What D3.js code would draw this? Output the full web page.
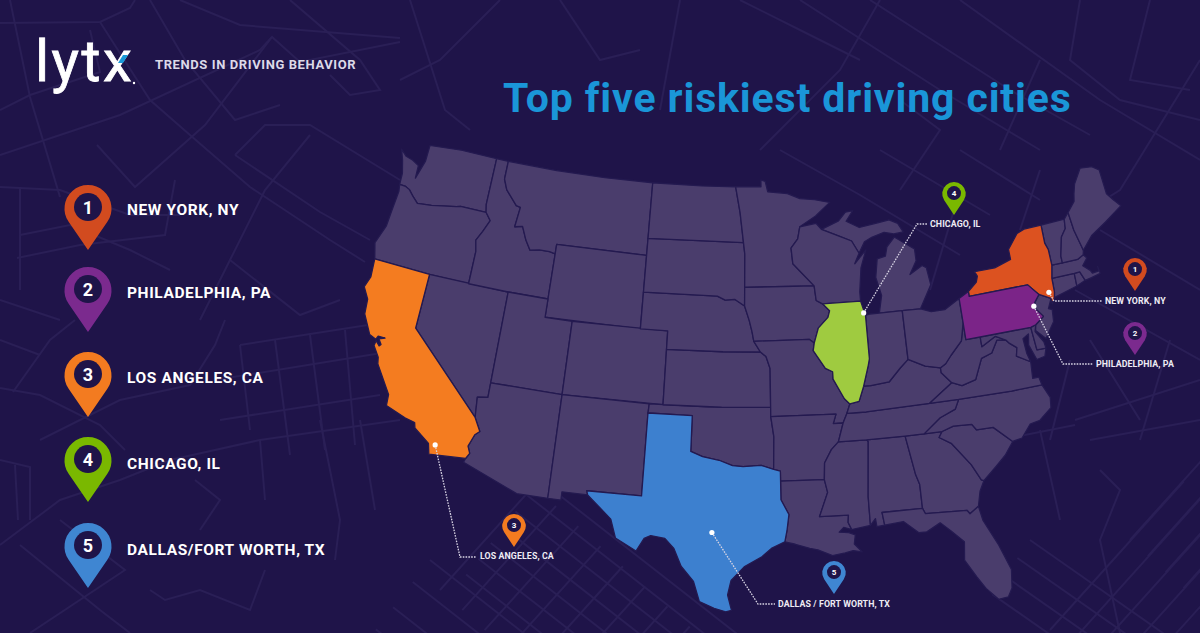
<!DOCTYPE html>
<html>
<head>
<meta charset="utf-8">
<script src="https://cdn.jsdelivr.net/npm/d3@7"></script>
<style>
  html, body { margin: 0; padding: 0; background: #1f1449; }
  svg { display: block; }
  text { font-family: Roboto, "Open Sans", sans-serif; }
</style>
</head>
<body>
<div id="chart"></div>
<script>
const WIDTH = 1200;
const HEIGHT = 633;

// state outlines, lon/lat
const WA = [[-124.73,48.15],[-124.2,47.85],[-123.6,47.75],[-123.05,47.55],[-123,46.85],[-122.6,47.9],[-122.6,48.8],[-120,49],[-117.03,49],[-117.04,46.42],[-116.92,46],[-118.98,46],[-119.3,45.93],[-121.2,45.65],[-122.3,45.55],[-122.78,45.85],[-123.2,46.15],[-123.55,46.26],[-124.05,46.27],[-124.1,46.9],[-124.4,47.6]];
const OR = [[-124.05,46.27],[-123.55,46.26],[-123.2,46.15],[-122.78,45.85],[-122.3,45.55],[-121.2,45.65],[-119.3,45.93],[-118.98,46],[-116.92,46],[-116.46,45.6],[-116.85,44.95],[-117.22,44.4],[-117.03,43.8],[-117.03,42],[-120,42],[-124.21,42],[-124.55,42.84],[-124.1,43.9],[-124.05,44.7],[-123.95,45.9]];
const CA = [[-124.21,42],[-120,42],[-120,39],[-114.63,35],[-114.14,34.3],[-114.43,34.08],[-114.72,33.4],[-114.52,33.03],[-114.72,32.72],[-117.12,32.53],[-117.3,33.1],[-118.4,33.75],[-118.5,34.03],[-119.2,34.15],[-120.6,34.55],[-120.65,35.15],[-121.9,36.6],[-122,36.95],[-122.5,37.5],[-122.45,37.78],[-122.15,37.55],[-122.05,37.65],[-122.3,37.92],[-121.9,38.05],[-122.4,38.05],[-122.5,37.85],[-123,38],[-123.75,39],[-123.85,39.8],[-124.35,40.4],[-124.1,41]];
const NV = [[-120,42],[-114.04,42],[-114.04,36.2],[-114.75,36.1],[-114.63,35],[-120,39]];
const ID = [[-117.03,49],[-116.05,49],[-116.05,48],[-115.7,47.45],[-114.7,46.7],[-114.35,46.65],[-114.5,45.55],[-113.9,45.65],[-113.45,44.95],[-113,44.45],[-112.3,44.55],[-111.5,44.55],[-111.05,44.48],[-111.05,42],[-114.04,42],[-117.03,42],[-117.03,43.8],[-117.22,44.4],[-116.85,44.95],[-116.46,45.6],[-116.92,46],[-117.04,46.42]];
const MT = [[-116.05,49],[-112,49],[-108,49],[-104.05,49],[-104.05,45],[-111.05,45],[-111.05,44.48],[-111.5,44.55],[-112.3,44.55],[-113,44.45],[-113.45,44.95],[-113.9,45.65],[-114.5,45.55],[-114.35,46.65],[-114.7,46.7],[-115.7,47.45],[-116.05,48]];
const WY = [[-111.05,45],[-104.05,45],[-104.05,41],[-111.05,41]];
const UT = [[-114.04,42],[-111.05,42],[-111.05,41],[-109.05,41],[-109.05,37],[-114.04,37]];
const CO = [[-109.05,41],[-102.05,41],[-102.05,37],[-109.05,37]];
const AZ = [[-114.75,36.1],[-114.04,36.2],[-114.04,37],[-109.05,37],[-109.05,31.33],[-111.07,31.33],[-114.8,32.5],[-114.72,32.72],[-114.52,33.03],[-114.72,33.4],[-114.43,34.08],[-114.14,34.3],[-114.63,35]];
const NM = [[-109.05,37],[-103,37],[-103.04,36.5],[-103.06,32],[-106.62,32],[-106.53,31.78],[-108.2,31.78],[-108.2,31.33],[-109.05,31.33]];
const TX = [[-106.62,32],[-103.06,32],[-103.04,36.5],[-100,36.5],[-100,34.56],[-99.2,34.3],[-98.1,34.13],[-97.2,33.85],[-96.5,33.8],[-95.3,33.87],[-94.48,33.64],[-94.04,33.55],[-94.04,33],[-94.04,31.99],[-93.55,31.18],[-93.7,30.3],[-93.85,29.7],[-94.7,29.35],[-95.3,28.9],[-96.4,28.35],[-97.2,27.6],[-97.4,26.8],[-97.15,25.96],[-97.5,25.87],[-98.2,26.05],[-99.1,26.4],[-99.5,27.5],[-100.3,28.3],[-100.8,29.25],[-101.4,29.77],[-102.3,29.88],[-102.7,29.7],[-103.15,28.98],[-104.5,29.6],[-104.9,30.6],[-106.53,31.78]];
const OK = [[-103,37],[-99,37],[-94.62,37],[-94.62,36.5],[-94.43,35.4],[-94.48,33.64],[-95.3,33.87],[-96.5,33.8],[-97.2,33.85],[-98.1,34.13],[-99.2,34.3],[-100,34.56],[-100,36.5],[-103.04,36.5]];
const KS = [[-102.05,40],[-98,40],[-95.3,40],[-94.9,39.75],[-94.62,39.1],[-94.62,37],[-98,37],[-102.05,37]];
const NE = [[-104.05,43],[-98.5,43],[-97.9,42.8],[-97.2,42.85],[-96.45,42.49],[-96.1,41.7],[-95.9,41.1],[-95.77,40.58],[-95.3,40],[-98,40],[-102.05,40],[-102.05,41],[-104.05,41]];
const SD = [[-104.05,45.94],[-96.56,45.94],[-96.45,45.3],[-96.45,43.5],[-96.45,42.49],[-97.2,42.85],[-97.9,42.8],[-98.5,43],[-104.05,43]];
const ND = [[-104.05,49],[-100,49],[-97.23,49],[-96.85,47.6],[-96.56,45.94],[-104.05,45.94]];
const MN = [[-97.23,49],[-95.15,49],[-95.15,49.38],[-94.8,49.3],[-94.6,48.72],[-93,48.6],[-92,48.3],[-90.8,48.2],[-89.6,48],[-90.8,47.3],[-92.1,46.75],[-92.3,46.1],[-92.85,45.6],[-92.75,44.75],[-91.2,43.5],[-96.45,43.5],[-96.45,45.3],[-96.56,45.94],[-96.85,47.6]];
const IA = [[-96.45,43.5],[-91.2,43.5],[-91.1,42.7],[-90.64,42.5],[-90.15,42.1],[-90.3,41.75],[-91.05,41.2],[-91.4,40.4],[-91.73,40.61],[-95.77,40.58],[-95.9,41.1],[-96.1,41.7],[-96.45,42.49]];
const MO = [[-95.77,40.58],[-91.73,40.61],[-91.4,40.4],[-91.5,40],[-90.7,39],[-90.2,38.8],[-90.2,38.4],[-89.5,37.3],[-89.15,37],[-89.4,36.5],[-89.7,36],[-90.37,36],[-90.15,36.5],[-94.62,36.5],[-94.62,37],[-94.62,39.1],[-94.9,39.75],[-95.3,40]];
const AR = [[-94.62,36.5],[-90.15,36.5],[-90.37,36],[-89.7,36],[-90.1,35],[-90.6,34.6],[-91.1,33.9],[-91.17,33],[-94.04,33],[-94.04,33.55],[-94.48,33.64],[-94.43,35.4]];
const LA = [[-94.04,33],[-91.17,33],[-91,32.3],[-91.6,31],[-89.75,31],[-89.8,30.6],[-89.6,30.2],[-90.1,30.35],[-90.4,30.1],[-89.8,30.05],[-89.4,29.9],[-89.5,29.4],[-89.05,28.95],[-89.6,29.05],[-90.1,28.95],[-90.9,28.85],[-91.8,29.2],[-92.3,29.3],[-93.2,29.55],[-93.85,29.7],[-93.7,30.3],[-93.55,31.18],[-94.04,31.99]];
const MS = [[-90.1,35],[-88.2,35],[-88.1,34.9],[-88.4,31.9],[-88.4,30.35],[-89.6,30.2],[-89.8,30.6],[-89.75,31],[-91.6,31],[-91,32.3],[-91.17,33],[-91.1,33.9],[-90.6,34.6]];
const AL = [[-88.2,35],[-85.6,35],[-85.2,32.9],[-85,32.3],[-85,31],[-87.6,31],[-87.5,30.3],[-88,30.25],[-88.05,30.7],[-88.4,30.35],[-88.4,31.9],[-88.1,34.9]];
const GA = [[-85.6,35],[-84.32,35],[-83.1,35],[-83.35,34.7],[-82.6,34.3],[-81.5,33],[-81,32.1],[-80.85,32.03],[-81.2,31.5],[-81.45,30.7],[-82.05,30.37],[-82.2,30.57],[-84.86,30.7],[-85,31],[-85,32.3],[-85.2,32.9]];
const FL = [[-87.6,31],[-85,31],[-84.86,30.7],[-82.2,30.57],[-82.05,30.37],[-81.45,30.7],[-81.3,29.9],[-80.6,28.5],[-80.05,27],[-80.2,26],[-80.5,25.55],[-81.1,25.5],[-81.75,26.2],[-82.2,26.9],[-82.8,27.9],[-82.65,28.9],[-83.4,29.6],[-84,30.1],[-84.9,29.7],[-85.4,29.7],[-86.3,30.4],[-87.5,30.3]];
const SC = [[-83.35,34.7],[-83.1,35],[-82.3,35.2],[-81.05,35.15],[-80.8,34.82],[-79.67,34.8],[-78.55,33.86],[-79.2,33.2],[-79.9,32.7],[-80.85,32.03],[-81,32.1],[-81.5,33],[-82.6,34.3]];
const NC = [[-84.32,35],[-83.1,35],[-82.3,35.2],[-81.05,35.15],[-80.8,34.82],[-79.67,34.8],[-78.55,33.86],[-77.9,33.95],[-77.2,34.6],[-76.5,34.7],[-75.6,35.25],[-75.5,35.8],[-75.87,36.55],[-78,36.55],[-81.68,36.59],[-82,36.1],[-83.1,35.75]];
const TN = [[-90.1,35],[-88.2,35],[-85.6,35],[-84.32,35],[-83.1,35.75],[-82,36.1],[-81.68,36.59],[-83.68,36.6],[-88.07,36.5],[-89.4,36.5],[-89.7,36]];
const KY = [[-89.4,36.5],[-88.07,36.5],[-83.68,36.6],[-81.97,37.54],[-82.6,38.15],[-82.6,38.42],[-83.65,38.63],[-84.8,39.1],[-85.4,38.7],[-86.3,38],[-87.6,37.9],[-88.1,37.9],[-88.5,37.1],[-89.15,37]];
const VA = [[-83.68,36.6],[-81.68,36.59],[-78,36.55],[-75.87,36.55],[-75.97,37],[-76.4,37],[-76.3,37.9],[-77.2,38.35],[-77.05,38.8],[-77.5,39.1],[-77.72,39.32],[-78.35,39.4],[-78.87,38.77],[-79.65,38.58],[-80.3,37.5],[-81.3,37.3],[-81.97,37.54]];
const WV = [[-81.97,37.54],[-81.3,37.3],[-80.3,37.5],[-79.65,38.58],[-78.87,38.77],[-78.35,39.4],[-77.72,39.32],[-78.4,39.62],[-79.48,39.2],[-79.48,39.72],[-80.52,39.72],[-80.52,40.64],[-80.85,39.7],[-81.75,39],[-82.2,38.6],[-82.6,38.42],[-82.6,38.15]];
const MD = [[-79.48,39.72],[-75.79,39.72],[-75.7,38.46],[-75.05,38.45],[-75.25,38.03],[-75.85,37.95],[-76.2,38.8],[-76.05,39.4],[-76.5,39.2],[-76.45,38.4],[-76.3,37.9],[-77.2,38.35],[-77.05,38.8],[-77.5,39.1],[-77.72,39.32],[-78.4,39.62],[-79.48,39.2]];
const DE = [[-75.79,39.72],[-75.4,39.8],[-75.55,39.45],[-75.1,38.8],[-75.05,38.45],[-75.7,38.46]];
const PA = [[-80.52,41.98],[-79.76,42.27],[-79.76,42],[-75.35,42],[-74.7,41.36],[-75.13,40.98],[-75.2,40.68],[-74.73,40.15],[-75.4,39.8],[-75.79,39.72],[-80.52,39.72]];
const NJ = [[-75.13,40.98],[-74.7,41.36],[-73.9,41],[-74.25,40.5],[-74,40.4],[-74.1,39.75],[-74.9,38.95],[-75.5,39.5],[-75.4,39.8],[-74.73,40.15],[-75.2,40.68]];
const NY = [[-79.76,42.27],[-79.05,42.7],[-78.9,43],[-79.05,43.27],[-77.5,43.27],[-76.2,43.55],[-76.2,44.1],[-75.3,44.85],[-74.7,45],[-73.35,45],[-73.4,44],[-73.25,43.6],[-73.27,42.75],[-73.5,42.05],[-73.55,41.3],[-73.65,41],[-73.9,40.7],[-73.9,41],[-74.7,41.36],[-75.35,42],[-79.76,42]];
const CT = [[-73.5,42.05],[-71.8,42.02],[-71.85,41.32],[-73.65,41],[-73.55,41.3]];
const RI = [[-71.8,42.02],[-71.38,42.02],[-71.15,41.5],[-71.85,41.32]];
const MA = [[-73.5,42.05],[-73.27,42.75],[-72.46,42.73],[-71.3,42.7],[-70.8,42.87],[-70.6,42.65],[-71.05,42.3],[-70.6,41.95],[-70.5,41.78],[-70,41.8],[-70,42.05],[-69.95,41.65],[-70.65,41.55],[-71.15,41.5],[-71.38,42.02],[-71.8,42.02]];
const VT = [[-73.35,45],[-71.5,45],[-71.6,44.5],[-72.05,44.1],[-72.45,43.1],[-72.46,42.73],[-73.27,42.75],[-73.25,43.6],[-73.4,44]];
const NH = [[-71.5,45],[-71.08,45.3],[-71,44.3],[-70.7,43.1],[-70.8,42.87],[-71.3,42.7],[-72.46,42.73],[-72.45,43.1],[-72.05,44.1],[-71.6,44.5]];
const ME = [[-71.08,45.3],[-70.4,45.8],[-70.25,46.2],[-70,46.7],[-69.23,47.46],[-68.3,47.36],[-67.8,47.07],[-67.8,45.7],[-67.45,45.3],[-67,44.85],[-68.5,44.25],[-69.8,43.75],[-70.7,43.1],[-71,44.3]];
const MI_LOWER = [[-86.5,41.76],[-84.8,41.76],[-83.45,41.73],[-83.15,42.1],[-82.45,42.95],[-82.6,43.9],[-82.9,44.05],[-83.9,43.65],[-83.3,44.35],[-83.3,45],[-84.75,45.78],[-85.4,45.3],[-85.6,44.8],[-86.25,44.7],[-86.5,43.7],[-86.2,42.7]];
const MI_UPPER = [[-90.4,46.55],[-89,46.95],[-88.4,47.4],[-87.8,47.45],[-88.4,46.9],[-87.4,46.5],[-86,46.65],[-85,46.75],[-84.35,46.5],[-84,46],[-84.75,45.95],[-85.5,46.1],[-86.5,45.9],[-87.1,45.7],[-87.6,45.1],[-88.1,45.8],[-89,46.1]];
const WI = [[-92.1,46.75],[-90.8,46.9],[-90.4,46.55],[-89,46.1],[-88.1,45.8],[-87.6,45.1],[-88,44.55],[-87.05,45.25],[-87.55,44.3],[-87.8,43],[-87.8,42.5],[-90.64,42.5],[-91.1,42.7],[-91.2,43.5],[-92.75,44.75],[-92.85,45.6],[-92.3,46.1]];
const IL = [[-90.64,42.5],[-87.8,42.5],[-87.53,41.7],[-87.53,39.35],[-87.65,39],[-88.1,37.9],[-88.5,37.1],[-89.15,37],[-89.5,37.3],[-90.2,38.4],[-90.2,38.8],[-90.7,39],[-91.5,40],[-91.4,40.4],[-91.05,41.2],[-90.3,41.75],[-90.15,42.1]];
const IN = [[-87.53,41.7],[-87.2,41.76],[-86.5,41.76],[-84.8,41.76],[-84.8,39.1],[-85.4,38.7],[-86.3,38],[-87.6,37.9],[-88.1,37.9],[-87.65,39],[-87.53,39.35]];
const OH = [[-84.8,41.76],[-83.45,41.73],[-82.7,41.5],[-81.7,41.5],[-80.52,41.98],[-80.52,40.64],[-80.85,39.7],[-81.75,39],[-82.2,38.6],[-82.6,38.42],[-83.65,38.63],[-84.8,39.1]];

const plainStates = [WA, OR, NV, ID, MT, WY, UT, CO, AZ, NM, OK, KS, NE, SD, ND, MN, IA, MO, AR, LA, MS, AL, GA, FL, SC, NC, TN, KY, VA, WV, MD, DE, NJ, CT, RI, MA, VT, NH, ME, MI_LOWER, MI_UPPER, WI, IN, OH];

// the five ranked cities
const ranks = [1, 2, 3, 4, 5];
const legendNames = ["NEW YORK, NY", "PHILADELPHIA, PA", "LOS ANGELES, CA", "CHICAGO, IL", "DALLAS/FORT WORTH, TX"];
const mapNames = ["NEW YORK, NY", "PHILADELPHIA, PA", "LOS ANGELES, CA", "CHICAGO, IL", "DALLAS / FORT WORTH, TX"];
const rankedStates = [NY, PA, CA, IL, TX];
const cityLonLat = [[-73.95,41.35],[-75.25,40.8],[-116.85,33.1],[-87.65,41.85],[-98.45,30.2]];
const pinColors = ["#d24b1f", "#7b2a8e", "#f37b20", "#7ab800", "#3f86d2"];
const stateColors = ["#dc5220", "#7b2488", "#f47c20", "#9fcb40", "#3d80cf"];

// page layout
const legendPinTops = [185, 267, 352, 437, 523];
const legendTextY = [215, 298, 383, 469, 555];
const mapPins = [[1135, 258], [1135, 322], [514, 514], [954, 182], [834, 561]];
const mapLabels = [[1105, 304], [1096, 367], [480, 559], [930, 227], [778, 607]];
const leaderElbows = [
  [[1054, 301], [1102, 301]],
  [[1063, 364], [1093, 364]],
  [[460, 557], [476, 557]],
  [[917, 224], [927, 224]],
  [[758, 604], [775, 604]]
];

// faint street map in the background
const streets = [
  [[10,0],[30,97],[60,197]], [[0,23],[100,22],[130,8],[135,0]], [[0,110],[30,95],[100,72],[90,30]],
  [[0,155],[120,115],[260,50],[272,37],[300,62],[400,42]], [[100,22],[150,100],[190,135],[250,187],[330,240],[365,262]],
  [[150,0],[185,60],[235,120],[280,105]], [[97,145],[135,187],[205,125],[272,37]], [[235,155],[265,125],[310,125],[400,180]],
  [[235,155],[320,212],[370,240]], [[310,135],[265,190],[225,270],[200,320]], [[0,187],[60,190],[130,215],[180,215]],
  [[20,187],[20,290]], [[20,235],[70,225],[130,250],[170,270]], [[17,258],[80,245],[165,235],[175,180]],
  [[230,260],[300,315],[340,300]], [[0,300],[60,320]], [[180,0],[240,25],[400,38]], [[290,0],[360,60],[380,90],[350,95],[330,75]],
  [[0,340],[40,355]], [[13,392],[50,340],[75,320]], [[0,388],[40,395],[100,425],[125,450]], [[40,440],[120,400],[190,385],[215,345],[225,320]],
  [[240,345],[400,320]], [[240,345],[250,430]], [[275,340],[290,455]], [[310,335],[325,450]], [[345,330],[355,445]], [[215,380],[400,350]],
  [[220,420],[380,395]], [[0,545],[60,500],[120,480],[170,460],[260,440],[400,420]], [[0,460],[30,467],[30,520]], [[15,465],[18,520]],
  [[60,520],[125,570],[30,633]], [[20,545],[100,610],[130,633]], [[150,590],[165,600],[200,590],[250,610],[265,570]], [[195,480],[220,500],[200,530]],
  [[320,420],[340,520],[335,560]], [[360,420],[375,510]], [[260,440],[265,500]],
  [[410,0],[445,110],[470,130]], [[500,0],[440,60],[400,80]], [[560,0],[600,60],[640,50]], [[680,0],[660,110]], [[740,0],[800,30],[860,60]],
  [[760,150],[840,70],[880,0]], [[800,0],[940,90],[1040,150]], [[870,0],[1010,90],[1090,135]], [[960,0],[1100,100],[1200,160]], [[1040,60],[1000,150]],
  [[900,100],[940,130],[900,190]], [[1080,0],[1070,60],[1120,100],[1200,120]], [[1150,0],[1130,80],[1190,90]], [[1200,60],[1120,190],[1040,240]],
  [[1100,230],[1200,290]], [[1075,290],[1200,360]], [[1090,340],[1140,420]], [[1070,360],[1050,440]], [[1170,340],[1140,440]],
  [[1075,420],[1200,380]], [[1090,440],[1200,420]], [[1100,470],[1120,490],[1100,540],[1120,633]], [[1000,440],[1075,425]], [[1040,430],[1060,520]],
  [[780,150],[860,195],[960,255]], [[880,150],[990,215]], [[960,150],[1040,200]], [[960,190],[930,290]], [[1040,170],[1020,230]]
];
// rotated street blocks: start point, direction in degrees, length, offsets across
const streetGrids = [
  [[540, 480], 38, 340, [0, 20, 40, 60, 80, 100, 120]],
  [[430, 560], 38, 300, [0, 28, 60, 88, 130]],
  [[440, 590], -48, 140, [0, 30, 60, 90, 120, 150, 180, 210]],
  [[640, 510], -48, 180, [0, 26, 52, 78]],
  [[1050, 630], -48, 200, [0, 24, 48, 72, 96]],
  [[1030, 540], 35, 220, [0, 22, 44, 66]],
  [[1130, 540], -48, 120, [0, 24, 48, 72]]
];

const svg = d3.select("#chart").append("svg")
  .attr("width", WIDTH)
  .attr("height", HEIGHT)
  .attr("viewBox", `0 0 ${WIDTH} ${HEIGHT}`);

svg.append("rect").attr("width", WIDTH).attr("height", HEIGHT).attr("fill", "#1f1449");

// streets
const bg = svg.append("g").attr("fill", "none").attr("stroke", "#2a1f56").attr("stroke-width", 2);
const streetLine = d3.line();
bg.selectAll("path.street").data(streets).join("path").attr("class", "street").attr("d", streetLine);
streetGrids.forEach(([[x, y], deg, len, offsets]) => {
  const a = deg * Math.PI / 180;
  offsets.forEach(o => {
    const x0 = x - o * Math.sin(a), y0 = y + o * Math.cos(a);
    bg.append("path").attr("d", streetLine([[x0, y0], [x0 + len * Math.cos(a), y0 + len * Math.sin(a)]]));
  });
});

// map
const projection = d3.geoAlbers().scale(1050);
const anchor = projection([-103.04, 36.5]);
const t = projection.translate();
projection.translate([t[0] + 648 - anchor[0], t[1] + 413 - anchor[1]]);
const geoPath = d3.geoPath(projection);

// ring direction is not kept consistent above, so fix it up here
function toFeature(ring) {
  const closed = ring.concat([ring[0]]);
  const f = { type: "Polygon", coordinates: [closed] };
  if (d3.geoArea(f) > 2 * Math.PI) f.coordinates = [closed.slice().reverse()];
  return f;
}

const map = svg.append("g").attr("stroke", "#241a50").attr("stroke-width", 1.3).attr("stroke-linejoin", "round");
map.selectAll("path.state").data(plainStates).join("path")
  .attr("class", "state")
  .attr("fill", "#4a3d6c")
  .attr("d", d => geoPath(toFeature(d)));
map.selectAll("path.ranked").data(rankedStates).join("path")
  .attr("class", "ranked")
  .attr("fill", (d, i) => stateColors[i])
  .attr("d", d => geoPath(toFeature(d)));

// pins
function pinPath(cx, top, r, tip) {
  const cy = top + r;
  const h = tip - cy;
  const a = Math.acos(r / h);
  const p = d3.path();
  p.moveTo(cx, tip);
  p.lineTo(cx - r * Math.sin(a), cy + r * Math.cos(a));
  p.arc(cx, cy, r, Math.PI / 2 + a, Math.PI / 2 - a);
  p.closePath();
  return p.toString();
}

function drawPin(x, top, height, r, holeR, rank, color, fontSize) {
  const g = svg.append("g");
  g.append("path").attr("d", pinPath(x, top, r, top + height)).attr("fill", color);
  g.append("circle").attr("cx", x).attr("cy", top + r - r * 0.06).attr("r", holeR).attr("fill", "#1f1449");
  g.append("text").attr("x", x).attr("y", top + r - r * 0.06 + fontSize * 0.36)
    .attr("text-anchor", "middle").attr("fill", "#fff").attr("font-weight", 700).attr("font-size", fontSize)
    .text(rank);
}

ranks.forEach((rank, i) => {
  drawPin(88, legendPinTops[i], 65, 23.5, 14, rank, pinColors[i], 18);
  drawPin(mapPins[i][0], mapPins[i][1], 33, 11.8, 7, rank, pinColors[i], 8);
});

// legend labels
svg.append("g").selectAll("text").data(legendNames).join("text")
  .attr("x", 127)
  .attr("y", (d, i) => legendTextY[i])
  .attr("fill", "#fff")
  .attr("font-weight", 700)
  .attr("font-size", 15.5)
  .attr("letter-spacing", 0.6)
  .text(d => d);

// leaders from the city dots out to the small labels
const leaders = svg.append("g");
ranks.forEach((rank, i) => {
  const dot = projection(cityLonLat[i]);
  leaders.append("path")
    .attr("d", d3.line()([dot, ...leaderElbows[i]]))
    .attr("fill", "none")
    .attr("stroke", "#d8d4e4")
    .attr("stroke-width", 1.3)
    .attr("stroke-dasharray", "1.6 1.2");
  leaders.append("circle").attr("cx", dot[0]).attr("cy", dot[1]).attr("r", 2.6).attr("fill", "#fff");
  leaders.append("text")
    .attr("x", mapLabels[i][0]).attr("y", mapLabels[i][1])
    .attr("fill", "#eeecf4").attr("font-weight", 700).attr("font-size", 8.8).attr("letter-spacing", 0.1)
    .text(mapNames[i]);
});

// header
svg.append("text").attr("x", 503).attr("y", 112)
  .attr("fill", "#1a96d8").attr("font-weight", 700).attr("font-size", 41).attr("letter-spacing", 0.87)
  .text("Top five riskiest driving cities");
svg.append("text").attr("x", 155).attr("y", 69)
  .attr("fill", "#dcd9e8").attr("font-weight", 700).attr("font-size", 13).attr("letter-spacing", 0.6)
  .text("TRENDS IN DRIVING BEHAVIOR");

// logo
svg.append("text").attr("x", 35).attr("y", 81)
  .attr("fill", "#fff").attr("stroke", "#fff").attr("stroke-width", 0.8)
  .attr("font-family", "Lato").attr("font-weight", 400).attr("font-size", 58).attr("letter-spacing", 2.5)
  .text("lytx");
svg.append("path").attr("d", "M118 63 L123 55 L128 55 L123 63 Z").attr("fill", "#1a9ad9");
svg.append("circle").attr("cx", 134).attr("cy", 83).attr("r", 1.2).attr("fill", "#fff");
</script>
</body>
</html>
